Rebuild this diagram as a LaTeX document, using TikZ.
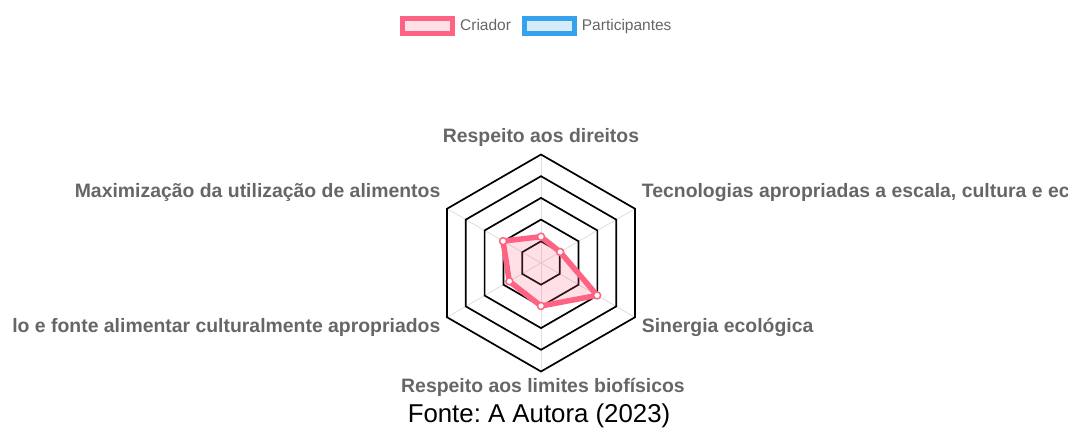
\documentclass[tikz,border=0pt]{standalone}
\usepackage{fontspec}
\setmainfont{Liberation Sans}
\frenchspacing
\definecolor{crpink}{HTML}{FF6384}
\definecolor{ptblue}{HTML}{36A2EB}
\definecolor{lblgray}{HTML}{666666}
\definecolor{spokegray}{HTML}{E0E0E0}
\begin{document}
\begin{tikzpicture}[x=1pt,y=1pt,
  gridhex/.style={draw=black,line width=1.7pt,line join=miter},
  spoke/.style={draw=spokegray,line width=0.9pt},
  axislabel/.style={inner sep=0pt,text=lblgray,font=\fontsize{19.4}{23}\selectfont\bfseries},
  legendtext/.style={inner sep=0pt,anchor=base west,text=lblgray,font=\fontsize{15.5}{18}\selectfont},
  ptmark/.style={circle,draw=crpink,fill=white,line width=1.5pt,inner sep=0pt,minimum size=7pt},
  serieline/.style={draw=crpink,line width=5.5pt,line join=round},
  seriefill/.style={fill=crpink,fill opacity=0.2}]
\useasboundingbox (0,0) rectangle (1068,447);

% legend
\draw[draw=crpink,line width=5pt,fill=crpink!20] (402.5,413.5) rectangle (452.5,428.5);
\node[legendtext] (lgc) at (460,416.5) {Criador};
\draw[draw=ptblue,line width=5pt,fill=ptblue!20] (524.2,413.5) rectangle (574.2,428.5);
\node[legendtext] (lgp) at (581.7,416.5) {Participantes};

% radar grid
\begin{scope}[shift={(541,184)}]
  \foreach \a in {90,30,...,-210} \draw[spoke] (0,0) -- (\a:108.5);
  \foreach \k in {1,...,5}
    \draw[gridhex] (90:{\k*21.7}) -- (30:{\k*21.7}) -- (-30:{\k*21.7}) -- (-90:{\k*21.7}) -- (-150:{\k*21.7}) -- (150:{\k*21.7}) -- cycle;
  % data: Criador
  \coordinate (p1) at (90:26.3);
  \coordinate (p2) at (30:22.1);
  \coordinate (p3) at (-30:64.8);
  \coordinate (p4) at (-90:43);
  \coordinate (p5) at (-150:36.6);
  \coordinate (p6) at (150:43.8);
\end{scope}
\fill[seriefill] (p1) -- (p2) -- (p3) -- (p4) -- (p5) -- (p6) -- cycle;
\draw[serieline] (p1) -- (p2) -- (p3) -- (p4) -- (p5) -- (p6) -- cycle;
\foreach \i in {1,...,6} \node[ptmark] (m\i) at (p\i) {};

% axis labels
\node[axislabel,anchor=base] (l1) at (541,304) {Respeito aos direitos};
\node[axislabel,anchor=base west] (l2) at (641.7,249) {Tecnologias apropriadas a escala, cultura e ec};
\node[axislabel,anchor=base west] (l3) at (641.7,114) {Sinergia ecológica};
\node[axislabel,anchor=base] (l4) at (543,54) {Respeito aos limites biofísicos};
\node[axislabel,anchor=base east] (l5) at (440.5,114) {lo e fonte alimentar culturalmente apropriados};
\node[axislabel,anchor=base east] (l6) at (440.5,249) {Maximização da utilização de alimentos};

% source
\node[inner sep=0pt,anchor=base,font=\fontsize{25.8}{30}\selectfont] (src) at (539,24) {Fonte: A Autora (2023)};
\end{tikzpicture}
\end{document}
